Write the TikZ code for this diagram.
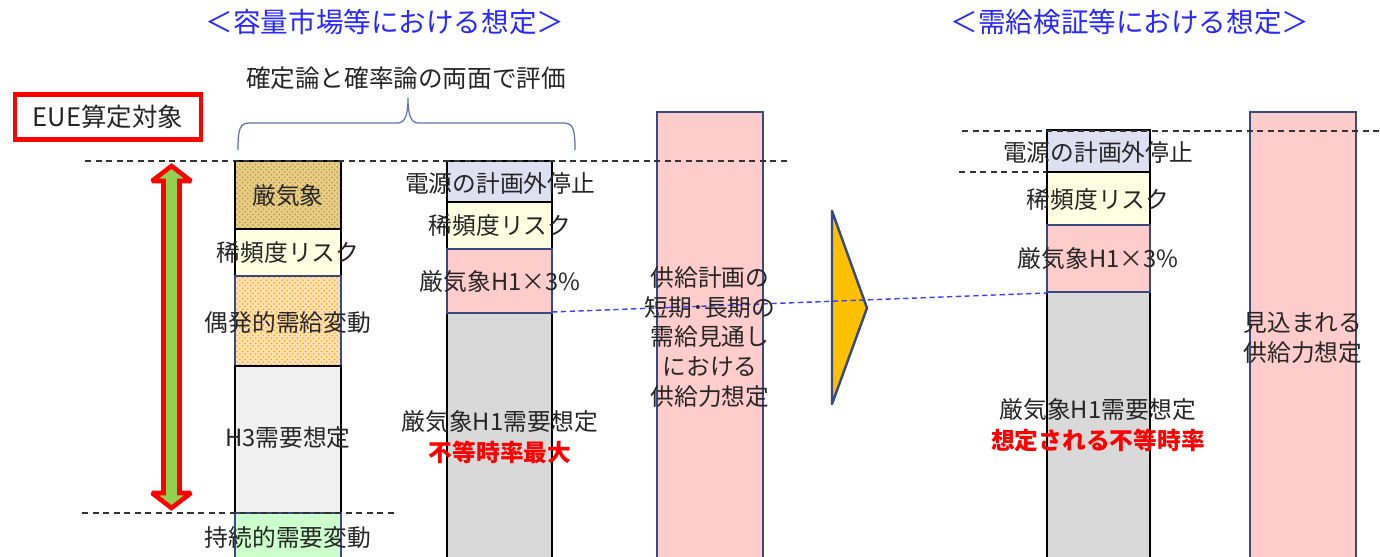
\documentclass[tikz,border=0pt]{standalone}
\usepackage{fontspec}
\setmainfont{Noto Sans CJK JP}
\usetikzlibrary{patterns}
\definecolor{ttl}{RGB}{40,40,255}
\definecolor{txt}{RGB}{38,38,38}
\definecolor{bord}{RGB}{55,75,130}
\definecolor{lav}{RGB}{222,224,242}
\definecolor{ylw}{RGB}{255,255,225}
\definecolor{pnk}{RGB}{255,204,204}
\definecolor{gry}{RGB}{217,217,217}
\definecolor{lgry}{RGB}{241,241,241}
\definecolor{lgrn}{RGB}{204,255,204}
\definecolor{tan}{RGB}{232,205,135}
\definecolor{tandot}{RGB}{185,145,60}
\definecolor{org}{RGB}{255,225,180}
\definecolor{orgdot}{RGB}{255,160,0}
\definecolor{gold}{RGB}{255,192,0}
\definecolor{arrgrn}{RGB}{146,208,80}
\definecolor{brc}{RGB}{95,115,165}
\begin{document}
\begin{tikzpicture}[x=0.02cm,y=-0.02cm,
  segk/.style={draw=black,line width=1.4pt},
  segb/.style={draw=bord,line width=1.4pt},
  lbl/.style={font=\fontsize{13.5}{17}\selectfont,text=txt,align=center,inner sep=0},
  redlbl/.style={font=\fontsize{13.5}{17}\selectfont\bfseries,text=red,align=center,inner sep=0},
  guide/.style={draw=black!80,line width=0.6pt,dash pattern=on 3.5pt off 2.5pt},
  blueguide/.style={draw=blue!75,line width=0.8pt,dash pattern=on 3pt off 2pt},
  title/.style={font=\fontsize{15.7}{19}\selectfont,text=ttl,inner sep=0}]
\useasboundingbox (0,0) rectangle (1380,557);
\fill[white] (0,0) rectangle (1380,557);

% titles
\node[title] (t1) at (385,22) {＜容量市場等における想定＞};
\node[title] (t2) at (1130,22) {＜需給検証等における想定＞};
\node[font=\fontsize{14}{17}\selectfont,text=txt,inner sep=0] (sub) at (406,78) {確定論と確率論の両面で評価};

% EUE box
\node[draw=red,line width=2.4pt,minimum width=186*0.02cm,minimum height=45*0.02cm,
      font=\fontsize{14.5}{17}\selectfont,text=txt,inner sep=0] (eue) at (108,117) {EUE算定対象};

% brace
\draw[brc,line width=0.7pt] (238,150) .. controls (238,128) and (240,123) .. (250,123)
   -- (398,123) .. controls (405,123) and (408,115) .. (408,98)
   .. controls (408,115) and (411,123) .. (418,123)
   -- (563,123) .. controls (573,123) and (575,128) .. (575,150);

% column 1
\fill[tan] (235,161) rectangle (341,229);
\fill[pattern=crosshatch dots,pattern color=tandot] (235,161) rectangle (341,229);
\draw[segk] (235,161) rectangle (341,229);
\draw[segk,fill=ylw] (235,229) rectangle (341,276);
\fill[org] (235,276) rectangle (341,366);
\fill[pattern=crosshatch dots,pattern color=orgdot] (235,276) rectangle (341,366);
\draw[segb] (235,276) rectangle (341,366);
\draw[segk,fill=lgry] (235,366) rectangle (341,513);
\draw[segb,fill=lgrn] (235,513) rectangle (341,560);

% column 2
\draw[segk,fill=lav] (447,161) rectangle (552,202);
\draw[segk,fill=ylw] (447,202) rectangle (552,249);
\draw[segk,fill=gry] (447,313) rectangle (552,560);
\draw[segb,fill=pnk] (447,249) rectangle (552,313);

% column 3
\draw[segb,fill=pnk] (657,112) rectangle (763,560);

% column 4
\draw[segk,fill=lav] (1047,130) rectangle (1150,172);
\draw[segk,fill=ylw] (1047,172) rectangle (1150,225);
\draw[segk,fill=gry] (1047,292) rectangle (1150,560);
\draw[segb,fill=pnk] (1047,225) rectangle (1150,292);

% column 5
\draw[segb,fill=pnk] (1250,112) rectangle (1356,560);

% triangle
\draw[draw=bord,line width=1.4pt,fill=gold,line join=round] (832,211) -- (867,308) -- (832,404) -- cycle;

% guide lines
\draw[guide] (85,161) -- (790,161);
\draw[guide] (82,513) -- (397,513);
\draw[guide] (962,131) -- (1380,131);
\draw[guide] (959,172) -- (1047,172);
\draw[blueguide] (552,312) -- (1047,293);

% double arrow
\draw[red,line width=2.6pt,fill=arrgrn,line join=miter,miter limit=3]
  (171.5,166) -- (191,181) -- (179.5,181) -- (179.5,493) -- (191,493) -- (171.5,508)
  -- (152,493) -- (163.5,493) -- (163.5,181) -- (152,181) -- cycle;

% labels column 1
\node[lbl] (c1a) at (288,196) {厳気象};
\node[lbl] (c1b) at (288,253) {稀頻度リスク};
\node[lbl] (c1c) at (288,322) {偶発的需給変動};
\node[lbl] (c1d) at (288,438) {H3需要想定};
\node[lbl] (c1e) at (288,537) {持続的需要変動};

% labels column 2
\node[lbl] (c2a) at (500,183) {電源の計画外停止};
\node[lbl] (c2b) at (500,226) {稀頻度リスク};
\node[lbl] (c2c) at (500,282) {厳気象H1×3\%};
\node[lbl] (c2d) at (500,422) {厳気象H1需要想定};
\node[redlbl] (c2e) at (500,452) {不等時率最大};

% labels column 3
\node[lbl,text width=4cm] (c3) at (710,337) {供給計画の\\短期･長期の\\需給見通し\\における\\供給力想定};

% labels column 4
\node[lbl] (c4a) at (1098,152) {電源の計画外停止};
\node[lbl] (c4b) at (1098,200) {稀頻度リスク};
\node[lbl] (c4c) at (1098,259) {厳気象H1×3\%};
\node[lbl] (c4d) at (1098,410) {厳気象H1需要想定};
\node[redlbl] (c4e) at (1098,440) {想定される不等時率};

% labels column 5
\node[lbl,text width=4cm] (c5) at (1303,338) {見込まれる\\供給力想定};
\end{tikzpicture}
\end{document}
